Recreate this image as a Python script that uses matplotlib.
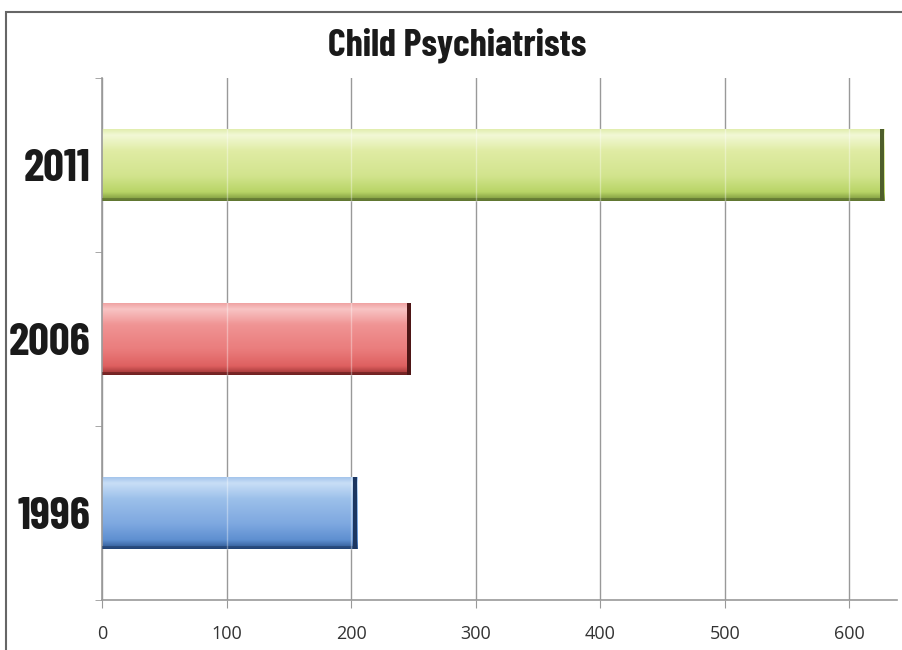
import numpy as np
import matplotlib
matplotlib.use("Agg")
import matplotlib.pyplot as plt
from matplotlib.colors import to_rgb
from matplotlib.patches import Rectangle

years = ["1996", "2006", "2011"]
counts = [205, 248, 628]
x_ticks = [0, 100, 200, 300, 400, 500, 600]

# gradient stops top -> bottom, plus dark right edge colour
bar_styles = {
    "1996": (["#a6c6ec", "#c8def6", "#9cc0ea", "#7ea8e0", "#5e8fd0", "#2c5590"], "#1c3660"),
    "2006": (["#f0a4a4", "#f8c4c4", "#f09494", "#ea7c7c", "#de6060", "#983030"], "#4e1616"),
    "2011": (["#e2eeb0", "#f2f8d6", "#e0eca4", "#d2e48e", "#b8d466", "#76923a"], "#4e5e2a"),
}
stop_pos = [0.0, 0.08, 0.3, 0.65, 0.88, 1.0]


def gradient(stops, n=80):
    cols = np.array([to_rgb(c) for c in stops])
    t = np.linspace(0, 1, n)
    arr = np.stack([np.interp(t, stop_pos, cols[:, k]) for k in range(3)], axis=1)
    return arr[:, None, :]


fig = plt.figure(figsize=(9.03, 6.5), dpi=100)
ax = fig.add_axes([0.113, 0.077, 0.88, 0.803])

# outer frame of the slide
fig.patches.append(Rectangle((0.0066, -0.01), 1.2, 0.9915, transform=fig.transFigure,
                             fill=False, edgecolor="#666666", linewidth=1.5))

bar_h = 0.41
for i, (yr, val) in enumerate(zip(years, counts)):
    stops, edge = bar_styles[yr]
    ax.imshow(gradient(stops), extent=[0, val, i - bar_h / 2, i + bar_h / 2],
              aspect="auto", interpolation="bilinear", zorder=2)
    ax.add_patch(Rectangle((val - 3.5, i - bar_h / 2), 3.5, bar_h,
                           facecolor=edge, edgecolor="none", zorder=3))
    ax.add_patch(Rectangle((0, i - bar_h / 2), val, 0.015,
                           facecolor=edge, edgecolor="none", alpha=0.5, zorder=3))
    # grid shows faintly through the bar
    for xv in x_ticks[1:]:
        if xv < val - 4:
            ax.plot([xv, xv], [i - bar_h / 2, i + bar_h / 2], color="white",
                    alpha=0.35, linewidth=1, zorder=3)

ax.set_xlim(0, 638)
ax.set_ylim(-0.5, 2.5)

ax.set_xticks(x_ticks)
ax.set_xticklabels([str(v) for v in x_ticks], family="Open Sans", fontsize=13, color="#333333")
ax.tick_params(axis="x", length=6, color="#999999", pad=12)
ax.xaxis.grid(True, color="#999999", linewidth=1, zorder=0)
ax.set_axisbelow(True)

ax.set_yticks(range(len(years)))
ax.set_yticklabels(years, family="Barlow Condensed", fontweight="bold",
                   fontsize=33, color="#1a1a1a")
ax.tick_params(axis="y", which="major", length=0, pad=8)
ax.set_yticks([-0.5, 0.5, 1.5, 2.5], minor=True)
ax.tick_params(axis="y", which="minor", length=5, color="#999999")

for side in ["top", "right"]:
    ax.spines[side].set_visible(False)
for side in ["left", "bottom"]:
    ax.spines[side].set_color("#999999")
    ax.spines[side].set_linewidth(1.2)

fig.text(0.506, 0.93, "Child Psychiatrists", ha="center", va="center",
         family="Barlow Condensed", fontweight="bold", fontsize=27.5, color="#1a1a1a")

fig.savefig("out.png", dpi=100)
